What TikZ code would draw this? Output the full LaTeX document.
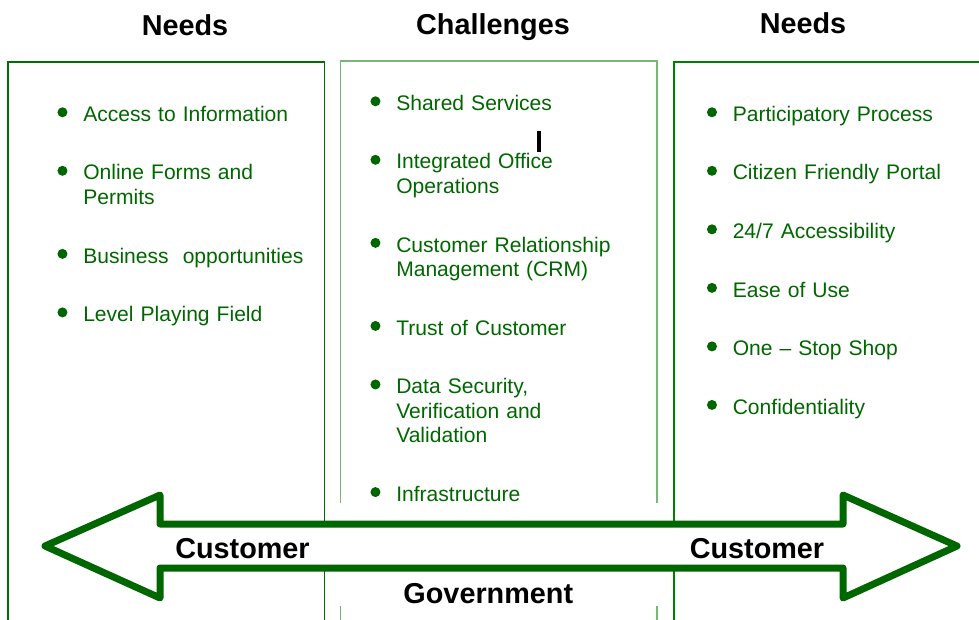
\documentclass[tikz,border=0pt]{standalone}
\usepackage{fontspec}
\setmainfont{Liberation Sans}
\usetikzlibrary{positioning}
\definecolor{itemgreen}{RGB}{0,102,0}
\definecolor{arrowgreen}{RGB}{0,102,0}
\definecolor{leftgreen}{RGB}{0,110,0}
\definecolor{midgreen}{RGB}{122,182,122}
\definecolor{rightgreen}{RGB}{0,128,0}
\tikzset{
  heading/.style={font=\bfseries\fontsize{21.6pt}{26pt}\selectfont, anchor=base, inner sep=0pt},
  need/.style={font=\fontsize{15.8pt}{18.4pt}\selectfont, text=itemgreen, text width=180pt,
    align=left, inner sep=0pt, execute at begin node=\strut, execute at end node=\strut},
  dot/.style={circle, fill=itemgreen, inner sep=0pt, minimum size=7.5pt}
}
\begin{document}
\begin{tikzpicture}[x=0.75pt, y=-0.75pt, node distance=25.1pt]
    \useasboundingbox (0,0) rectangle (979,619);
    \draw[leftgreen, line width=1pt] (8,640) |- (324.5,62) -- (324.5,640);
    \draw[midgreen, line width=1.2pt] (340.5,503) |- (657,61) -- (657,503);
    \draw[midgreen, line width=1.2pt] (340.5,606) -- (340.5,640);
    \draw[midgreen, line width=1.2pt] (657,606) -- (657,640);
    \draw[rightgreen, line width=1pt] (674,640) |- (990,62);
    \node[heading] (needsL) at (185,35) {Needs};
    \node[heading] (chall) at (493,34) {Challenges};
    \node[heading] (needsR) at (803,33) {Needs};
    \node[need, anchor=north west] (l1) at (83,104) {Access to Information};
    \node[need, below=of l1] (l2) {Online Forms and\\Permits};
    \node[need, below=of l2] (l3) {Business~ opportunities};
    \node[need, below=of l3] (l4) {Level Playing Field};
    \node[need, anchor=north west] (c1) at (396,93) {Shared Services};
    \node[need, below=of c1] (c2) {Integrated Office\\Operations};
    \node[need, below=of c2] (c3) {Customer Relationship\\Management (CRM)};
    \node[need, below=of c3] (c4) {Trust of Customer};
    \node[need, below=of c4] (c5) {Data Security,\\Verification and\\Validation};
    \node[need, below=of c5] (c6) {Infrastructure};
    \node[need, anchor=north west] (r1) at (732.5,104) {Participatory Process};
    \node[need, below=of r1] (r2) {Citizen Friendly Portal};
    \node[need, below=of r2] (r3) {24/7 Accessibility};
    \node[need, below=of r3] (r4) {Ease of Use};
    \node[need, below=of r4] (r5) {One – Stop Shop};
    \node[need, below=of r5] (r6) {Confidentiality};
    \foreach \n in {l1,l2,l3,l4,c1,c2,c3,c4,c5,c6,r1,r2,r3,r4,r5,r6}
      \node[dot] (\n-dot) at ([xshift=-15.4pt, yshift=-6.2pt]\n.north west) {};
    \fill[black] (536.5,131) rectangle (540.5,152);
    \draw[arrowgreen, line width=5.25pt, fill=white, line join=round]
      (45,546) -- (160,495) -- (160,524) -- (843,524) -- (843,495) -- (957,546)
      -- (843,598) -- (843,568) -- (160,568) -- (160,598) -- cycle;
    \node[heading] (custL) at (242.5,558) {Customer};
    \node[heading] (custR) at (757,558) {Customer};
    \node[heading] (gov) at (488.3,603) {Government};
\end{tikzpicture}
\end{document}
